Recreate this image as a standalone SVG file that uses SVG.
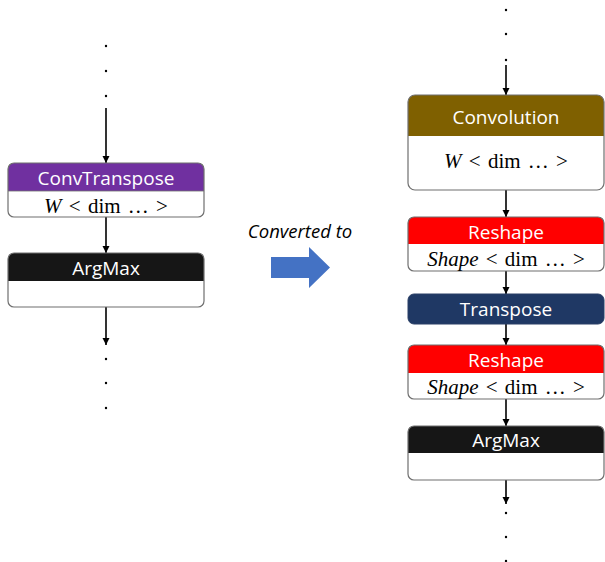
<svg xmlns="http://www.w3.org/2000/svg" width="605" height="562" viewBox="0 0 605 562">
<defs>
<marker id="ah" markerWidth="8" markerHeight="8" refX="7" refY="4" orient="auto" markerUnits="userSpaceOnUse">
<path d="M0,0.5 L7,4 L0,7.5 Z" fill="#000"/>
</marker>
<style>
.outline{fill:none;stroke:#6f6f6f;stroke-width:1.2}
.body{fill:#fff}
.hdr{font-family:"Open Sans","Noto Sans",sans-serif;font-size:19px;fill:#fff;text-anchor:middle}
.math{font-family:"Liberation Serif","DejaVu Serif",serif;font-size:21px;fill:#000;text-anchor:middle;word-spacing:2px}
.conn{stroke:#000;stroke-width:1.6;fill:none;marker-end:url(#ah)}
.dot{fill:#000}
.lbl{font-family:"Open Sans","Noto Sans",sans-serif;font-size:18.5px;font-style:italic;fill:#000;text-anchor:middle}
</style>
</defs>
<rect width="605" height="562" fill="#fff"/>

<g id="dots">
<circle class="dot" cx="106" cy="46" r="1.2"/>
<circle class="dot" cx="106" cy="71" r="1.2"/>
<circle class="dot" cx="106" cy="96" r="1.2"/>
<circle class="dot" cx="106" cy="359" r="1.2"/>
<circle class="dot" cx="106" cy="383" r="1.2"/>
<circle class="dot" cx="106" cy="408" r="1.2"/>
<circle class="dot" cx="506" cy="10" r="1.2"/>
<circle class="dot" cx="506" cy="34" r="1.2"/>
<circle class="dot" cx="506" cy="60" r="1.2"/>
<circle class="dot" cx="506" cy="513" r="1.2"/>
<circle class="dot" cx="506" cy="537" r="1.2"/>
<circle class="dot" cx="506" cy="561" r="1.2"/>
</g>

<g id="connectors">
<line class="conn" x1="106" y1="108" x2="106" y2="163"/>
<line class="conn" x1="106" y1="217" x2="106" y2="253"/>
<line class="conn" x1="106" y1="307" x2="106" y2="345"/>
<line class="conn" x1="506" y1="65" x2="506" y2="95"/>
<line class="conn" x1="506" y1="190" x2="506" y2="217"/>
<line class="conn" x1="506" y1="271" x2="506" y2="294"/>
<line class="conn" x1="506" y1="324" x2="506" y2="345"/>
<line class="conn" x1="506" y1="399" x2="506" y2="426"/>
<line class="conn" x1="506" y1="480" x2="506" y2="504"/>
</g>

<g id="convtranspose">
<rect class="body" x="8" y="163" width="196" height="54" rx="6"/>
<path d="M8,191 V169 A6,6 0 0 1 14,163 H198 A6,6 0 0 1 204,169 V191 Z" fill="#7030A0"/>
<line x1="8" y1="191" x2="204" y2="191" stroke="#6f6f6f" stroke-width="0.8"/>
<rect class="outline" x="8" y="163" width="196" height="54" rx="6"/>
<text class="hdr" x="106" y="184.5">ConvTranspose</text>
<text class="math" x="106" y="213"><tspan font-style="italic">W</tspan> &lt; dim … &gt;</text>
</g>

<g id="argmax-left">
<rect class="body" x="8" y="253" width="196" height="54" rx="6"/>
<path d="M8,281 V259 A6,6 0 0 1 14,253 H198 A6,6 0 0 1 204,259 V281 Z" fill="#161616"/>
<rect class="outline" x="8" y="253" width="196" height="54" rx="6"/>
<text class="hdr" x="106" y="274.5">ArgMax</text>
</g>

<g id="converted">
<text class="lbl" x="300" y="238">Converted to</text>
<path d="M271,257 H309 V247 L330,267.5 L309,288 V278 H271 Z" fill="#4472C4"/>
</g>

<g id="convolution">
<rect class="body" x="408" y="95" width="196" height="95" rx="7"/>
<path d="M408,136 V102 A7,7 0 0 1 415,95 H597 A7,7 0 0 1 604,102 V136 Z" fill="#7F6000"/>
<rect class="outline" x="408" y="95" width="196" height="95" rx="7"/>
<text class="hdr" x="506" y="123.5">Convolution</text>
<text class="math" x="506" y="168"><tspan font-style="italic">W</tspan> &lt; dim … &gt;</text>
</g>

<g id="reshape1">
<rect class="body" x="408" y="217" width="196" height="54" rx="6"/>
<path d="M408,244 V223 A6,6 0 0 1 414,217 H598 A6,6 0 0 1 604,223 V244 Z" fill="#FF0000"/>
<rect class="outline" x="408" y="217" width="196" height="54" rx="6"/>
<text class="hdr" x="506" y="238.5">Reshape</text>
<text class="math" x="506" y="266"><tspan font-style="italic">Shape</tspan> &lt; dim … &gt;</text>
</g>

<g id="transpose">
<rect x="408" y="294" width="196" height="30" rx="6" fill="#1F3864" stroke="#2a3f66" stroke-width="1"/>
<text class="hdr" x="506" y="316">Transpose</text>
</g>

<g id="reshape2">
<rect class="body" x="408" y="345" width="196" height="54" rx="6"/>
<path d="M408,373 V351 A6,6 0 0 1 414,345 H598 A6,6 0 0 1 604,351 V373 Z" fill="#FF0000"/>
<rect class="outline" x="408" y="345" width="196" height="54" rx="6"/>
<text class="hdr" x="506" y="366.5">Reshape</text>
<text class="math" x="506" y="394"><tspan font-style="italic">Shape</tspan> &lt; dim … &gt;</text>
</g>

<g id="argmax-right">
<rect class="body" x="408" y="426" width="196" height="54" rx="6"/>
<path d="M408,453 V432 A6,6 0 0 1 414,426 H598 A6,6 0 0 1 604,432 V453 Z" fill="#161616"/>
<rect class="outline" x="408" y="426" width="196" height="54" rx="6"/>
<text class="hdr" x="506" y="446.5">ArgMax</text>
</g>
</svg>
